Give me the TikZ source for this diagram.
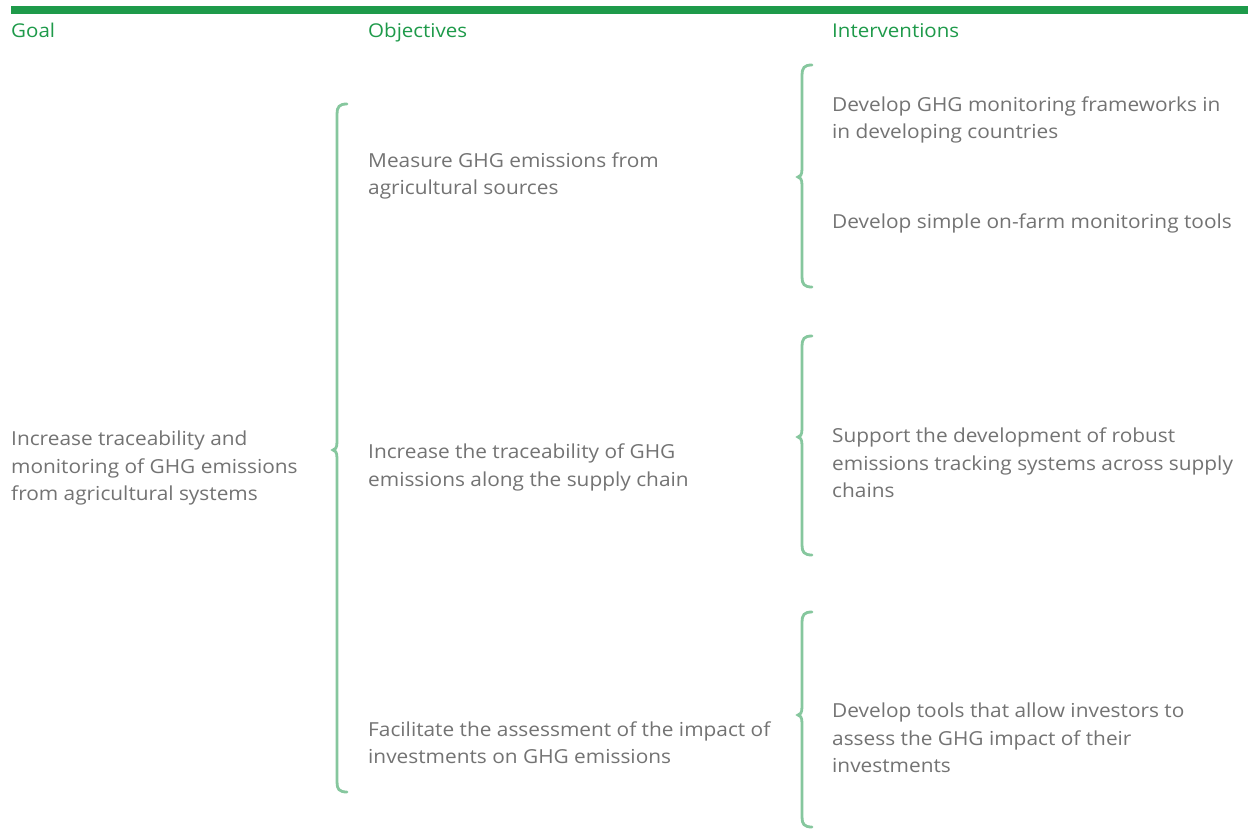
\documentclass[tikz,border=0pt]{standalone}
\usepackage{fontspec}
\setmainfont{Open Sans}[FakeStretch=1.08]
\definecolor{hdrgreen}{HTML}{1E9A4A}
\definecolor{bracegreen}{HTML}{86C79E}
\definecolor{txtgray}{HTML}{737373}
\newcommand{\curlybrc}[4]{% L, top, mid, bot
  \draw[brc] ({#1+10},#2) .. controls ({#1+2},#2) and (#1,{#2+3}) .. (#1,{#2+10})
    -- (#1,{#3-8}) .. controls (#1,{#3-2}) and ({#1-2},#3) .. ({#1-4},#3)
    .. controls ({#1-2},#3) and (#1,{#3+2}) .. (#1,{#3+8})
    -- (#1,{#4-10}) .. controls (#1,{#4-3}) and ({#1+2},#4) .. ({#1+10},#4);}
\begin{document}
\begin{tikzpicture}[x=1pt,y=-1pt,
  hdr/.style={anchor=base west,inner sep=0pt,text=hdrgreen,font=\fontsize{19}{22}\selectfont},
  body/.style={anchor=base west,inner sep=0pt,text=txtgray,font=\fontsize{19.3}{27.6}\selectfont},
  brc/.style={draw=bracegreen,line width=2.8pt,line cap=round}]
\fill[white] (0,0) rectangle (1248,831);
\useasboundingbox (0,0) rectangle (1248,831);
\fill[hdrgreen] (11,6) rectangle (1248,14);
\node[hdr] (hgoal) at (11,37.5) {Goal};
\node[hdr] (hobj) at (368,37.5) {Objectives};
\node[hdr] (hint) at (832,37.5) {Interventions};
\curlybrc{337}{104}{450}{792}
\curlybrc{802}{65}{177}{287}
\curlybrc{802}{336}{437}{555}
\curlybrc{802}{612}{715}{827}
\node[body] (goal) at (11,445.5) {\vtop{\hbox{Increase traceability and}\hbox{monitoring of GHG emissions}\hbox{from agricultural systems}}};
\node[body] (o1) at (368,167) {\vtop{\hbox{Measure GHG emissions from}\hbox{agricultural sources}}};
\node[body] (o2) at (368,458.5) {\vtop{\hbox{Increase the traceability of GHG}\hbox{emissions along the supply chain}}};
\node[body] (o3) at (368,736) {\vtop{\hbox{Facilitate the assessment of the impact of}\hbox{investments on GHG emissions}}};
\node[body] (i1) at (832,111) {\vtop{\hbox{Develop GHG monitoring frameworks in}\hbox{in developing countries}}};
\node[body] (i2) at (832,228) {Develop simple on-farm monitoring tools};
\node[body] (i3) at (832,442.5) {\vtop{\hbox{Support the development of robust}\hbox{emissions tracking systems across supply}\hbox{chains}}};
\node[body] (i4) at (832,717.5) {\vtop{\hbox{Develop tools that allow investors to}\hbox{assess the GHG impact of their}\hbox{investments}}};
\end{tikzpicture}
\end{document}
